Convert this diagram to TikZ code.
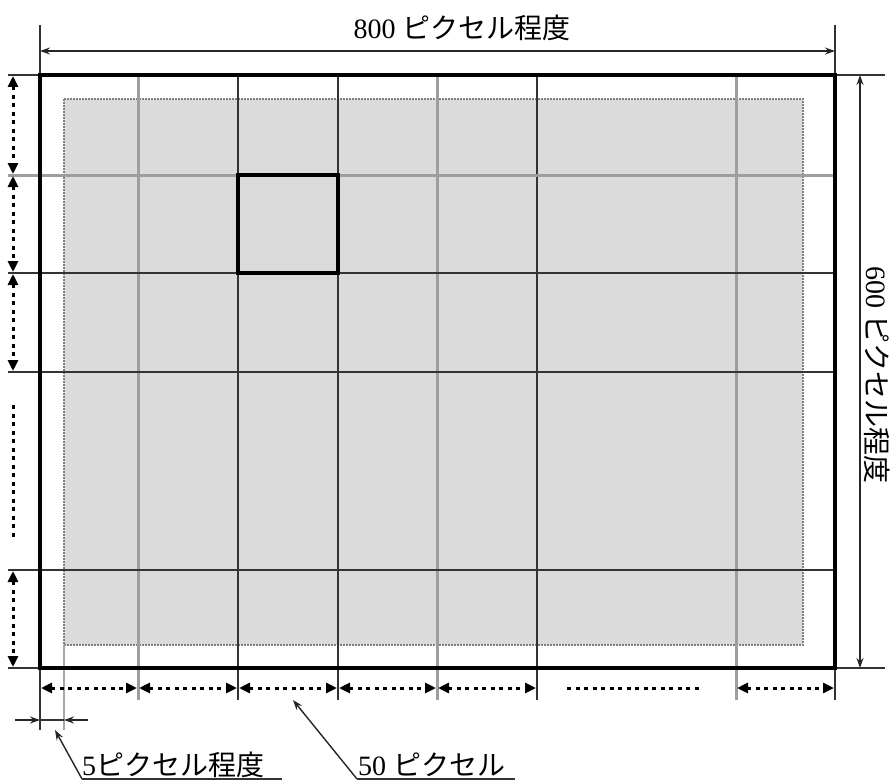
\documentclass[tikz,border=0pt]{standalone}
\usepackage{fontspec}
\setmainfont{Liberation Serif}
\newfontfamily\jp{Noto Sans CJK JP}
\usetikzlibrary{arrows.meta}
\begin{document}
\begin{tikzpicture}[x=1pt,y=-1pt,
  frameline/.style={line width=4.2pt,black},
  darkline/.style={line width=2pt,black!80},
  lightline/.style={line width=3pt,black!38},
  extline/.style={line width=1.4pt,black!80},
  lightext/.style={line width=2pt,black!35},
  shade/.style={fill=black!14,draw=black!50,line width=2pt,densely dotted},
  cellbox/.style={line width=4pt,black},
  dimarrow/.style={line width=1.4pt,black!85,{Stealth[length=10pt,width=7pt]}-{Stealth[length=10pt,width=7pt]}},
  tiparrow/.style={line width=1.4pt,black!85,-{Stealth[length=10pt,width=7pt]}},
  dasharrow/.style={line width=3pt,black,dash pattern=on 4pt off 4.5pt,{Triangle[length=11pt,width=10pt]}-{Triangle[length=11pt,width=10pt]}},
  dashonly/.style={line width=3pt,black,dash pattern=on 4pt off 4.5pt},
  lbl/.style={font=\fontsize{28}{30}\selectfont,inner sep=0pt}
]
\useasboundingbox (0,0) rectangle (894,781);
\fill[white] (0,0) rectangle (894,781);

% inner shaded area
\draw[shade] (64,99) rectangle (803,645);

% grid lines
\foreach \x in {138,437,736} \draw[lightline] (\x,75) -- (\x,700);
\foreach \x in {238,338,537} \draw[darkline] (\x,75) -- (\x,700);
\draw[lightline] (8,175) -- (835,175);
\foreach \y in {273,372,570} \draw[darkline] (8,\y) -- (835,\y);

% extension lines
\draw[extline] (40,25) -- (40,730);
\draw[extline] (835,25) -- (835,700);
\draw[extline] (8,75) -- (885,75);
\draw[extline] (8,668) -- (885,668);
\draw[lightext] (64,645) -- (64,730);

% frame
\draw[frameline] (40,75) rectangle (835,668);

% highlighted cell
\draw[cellbox] (238,175) rectangle (338,273);

% top dimension
\coordinate (tl) at (40,51);
\coordinate (tr) at (835,51);
\draw[dimarrow] (tl) -- (tr);
\node[lbl] (toplbl) at (462,28) {800 {\jp ピクセル程度}};

% right dimension
\coordinate (rt) at (860,75);
\coordinate (rb) at (860,668);
\draw[dimarrow] (rt) -- (rb);
\node[lbl,rotate=-90] (rightlbl) at (877,375) {600 {\jp ピクセル程度}};

% left dashed dimensions
\coordinate (l0) at (13,76);
\coordinate (l1) at (13,174);
\coordinate (l2) at (13,176);
\coordinate (l3) at (13,272);
\coordinate (l4) at (13,274);
\coordinate (l5) at (13,371);
\coordinate (l6) at (13,571);
\coordinate (l7) at (13,667);
\coordinate (ld1) at (13,405);
\coordinate (ld2) at (13,537);
\draw[dasharrow] (l0) -- (l1);
\draw[dasharrow] (l2) -- (l3);
\draw[dasharrow] (l4) -- (l5);
\draw[dashonly] (ld1) -- (ld2);
\draw[dasharrow] (l6) -- (l7);

% bottom dashed dimensions
\foreach \a/\b [count=\i] in {41/137,139/237,239/337,339/436,438/536,737/834}
  \coordinate (b\i a) at (\a,688) coordinate (b\i b) at (\b,688);
\foreach \i in {1,...,6} \draw[dasharrow] (b\i a) -- (b\i b);
\coordinate (bd1) at (567,688);
\coordinate (bd2) at (700,688);
\draw[dashonly] (bd1) -- (bd2);

% 5 pixel indicator
\coordinate (f0) at (15,720);
\coordinate (f1) at (40,720);
\coordinate (f2) at (64,720);
\coordinate (f3) at (88,720);
\draw[tiparrow] (f0) -- (f1);
\draw[extline] (f1) -- (f2);
\draw[tiparrow] (f3) -- (f2);

% labels with leader lines
\node[lbl,anchor=west] (lbl5) at (82,765) {5{\jp ピクセル程度}};
\node[lbl,anchor=west] (lbl50) at (358,765) {50 {\jp ピクセル}};
\coordinate (u1) at (82,779);
\coordinate (u1e) at (282,779);
\coordinate (p1) at (55,730);
\coordinate (u2) at (357,779);
\coordinate (u2e) at (515,779);
\coordinate (p2) at (293,700);
\draw[tiparrow] (u1) -- (p1);
\draw[extline] (u1) -- (u1e);
\draw[tiparrow] (u2) -- (p2);
\draw[extline] (u2) -- (u2e);
\end{tikzpicture}
\end{document}
